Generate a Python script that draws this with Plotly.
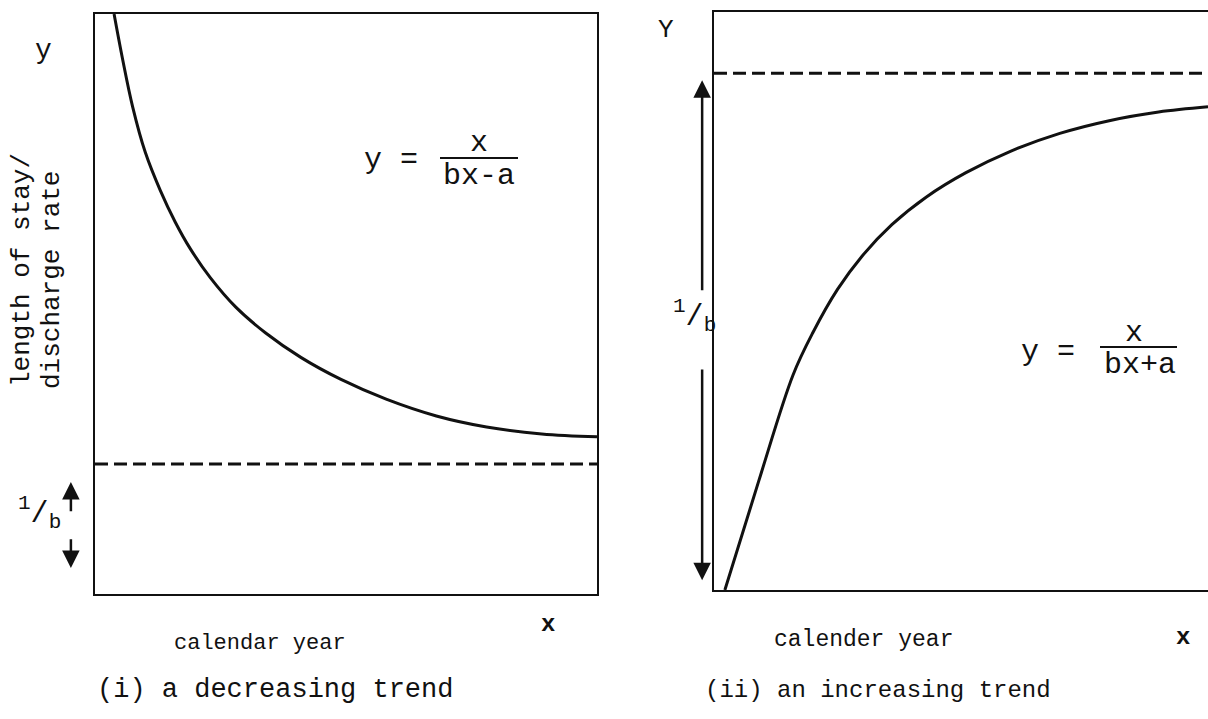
import plotly.graph_objects as go

W, H = 1208, 719
FONT = "Liberation Mono, Courier New, monospace"
INK = "#111111"

# ---- data -------------------------------------------------------------
# Panel (i): decreasing trend, y = x/(bx-a), levelling off above 1/b
dec_x = [0.38, 0.55, 0.75, 1.0, 1.3, 1.6, 1.9, 2.3, 2.8, 3.4, 4.1, 4.9, 5.8, 6.8, 7.8, 8.9, 10.0]
dec_y = [10.0, 9.22, 8.40, 7.62, 6.96, 6.41, 5.95, 5.45, 4.95, 4.50, 4.08, 3.70, 3.36, 3.07, 2.88, 2.76, 2.71]
dec_limit = 2.24          # 1/b

# Panel (ii): increasing trend, y = x/(bx+a), rising towards 1/b
inc_x = [0.22, 0.9, 1.6, 2.0, 2.5, 3.0, 3.6, 4.3, 5.1, 6.0, 7.0, 8.0, 9.0, 10.0]
inc_y = [0.0, 1.87, 3.72, 4.45, 5.2, 5.78, 6.32, 6.80, 7.22, 7.59, 7.90, 8.12, 8.27, 8.36]
inc_limit = 8.94          # 1/b

x_span = [0, 10]
y_span = [0, 10]

# arrows marking the 1/b distance: (x, tail y, tip y) in axis units
dec_arrows = [(-0.48, 1.40, 1.93), (-0.48, 0.97, 0.45)]
inc_arrows = [(-0.24, 5.16, 8.82), (-0.24, 3.84, 0.17)]

# plot areas in pixels: left, right, bottom, top
PANEL_I = (95, 597, 594, 14)
PANEL_II = (714, 1208, 590, 12)


def px(x):
    return x / W


def py(y):
    return 1 - y / H


def to_pixels(panel, xv, yv):
    x0, x1, y0, y1 = panel
    return (x0 + (xv - x_span[0]) / (x_span[1] - x_span[0]) * (x1 - x0),
            y0 + (yv - y_span[0]) / (y_span[1] - y_span[0]) * (y1 - y0))


fig = go.Figure()

# curves
fig.add_trace(go.Scatter(x=dec_x, y=dec_y, mode="lines", line=dict(color=INK, width=3, shape="spline"),
                         xaxis="x", yaxis="y", hoverinfo="skip"))
fig.add_trace(go.Scatter(x=inc_x, y=inc_y, mode="lines", line=dict(color=INK, width=3, shape="spline"),
                         xaxis="x2", yaxis="y2", hoverinfo="skip"))

# asymptotes at 1/b
fig.add_trace(go.Scatter(x=x_span, y=[dec_limit, dec_limit], mode="lines",
                         line=dict(color=INK, width=3, dash="13px,6px"),
                         xaxis="x", yaxis="y", hoverinfo="skip"))
fig.add_trace(go.Scatter(x=x_span, y=[inc_limit, inc_limit], mode="lines",
                         line=dict(color=INK, width=3, dash="13px,6px"),
                         xaxis="x2", yaxis="y2", hoverinfo="skip"))

axis_common = dict(showgrid=False, zeroline=False, showticklabels=False, ticks="",
                   showline=True, linecolor=INK, linewidth=2, fixedrange=True)

fig.update_layout(
    width=W, height=H,
    margin=dict(l=0, r=0, t=0, b=0),
    paper_bgcolor="white", plot_bgcolor="white",
    showlegend=False,
    xaxis=dict(domain=[px(PANEL_I[0]), px(PANEL_I[1])], range=x_span, mirror=True, anchor="y", **axis_common),
    yaxis=dict(domain=[py(PANEL_I[2]), py(PANEL_I[3])], range=y_span, mirror=True, anchor="x", **axis_common),
    xaxis2=dict(domain=[px(PANEL_II[0]), 1.0], range=x_span, mirror=True, anchor="y2", **axis_common),
    yaxis2=dict(domain=[py(PANEL_II[2]), py(PANEL_II[3])], range=y_span, mirror=False, anchor="x2",
                **axis_common),
)

ann = []


def text(x, y, s, size, **kw):
    ann.append(dict(x=px(x), y=py(y), xref="paper", yref="paper", text=s, showarrow=False,
                    font=dict(family=FONT, size=size, color=INK),
                    xanchor=kw.pop("xanchor", "center"), yanchor=kw.pop("yanchor", "middle"), **kw))


def arrow(panel, xv, tail, tip):
    tx, ty = to_pixels(panel, xv, tip)
    sx, sy = to_pixels(panel, xv, tail)
    ann.append(dict(x=px(tx), y=py(ty), xref="paper", yref="paper", ax=sx - tx, ay=sy - ty,
                    text="", showarrow=True, arrowhead=2, arrowsize=1.4, arrowwidth=2.5,
                    arrowcolor=INK, standoff=0, startstandoff=0))


for xv, tail, tip in dec_arrows:
    arrow(PANEL_I, xv, tail, tip)
for xv, tail, tip in inc_arrows:
    arrow(PANEL_II, xv, tail, tip)

ONE_OVER_B = "<sup>1</sup>/<sub>b</sub>"

# panel (i) texts
text(43, 50, "y", 28)
ann.append(dict(x=px(22), y=py(270), xref="paper", yref="paper", showarrow=False,
                text="length of stay/", textangle=-90,
                font=dict(family=FONT, size=26, color=INK), xanchor="center", yanchor="middle"))
ann.append(dict(x=px(52), y=py(280), xref="paper", yref="paper", showarrow=False,
                text="discharge rate", textangle=-90,
                font=dict(family=FONT, size=26, color=INK), xanchor="center", yanchor="middle"))
text(39, 513, ONE_OVER_B, 30)
text(391, 160, "y =", 30)
text(479, 143, "x", 30)
text(479, 176, "bx-a", 30)
text(260, 643, "calendar year", 22)
text(548, 624, "<b>x</b>", 24)
text(275, 690, "(i) a decreasing trend", 27)

# panel (ii) texts
text(666, 30, "Y", 26)
text(694, 316, ONE_OVER_B, 30)
text(1048, 352, "y =", 30)
text(1134, 333, "x", 30)
text(1140, 365, "bx+a", 30)
text(863, 640, "calender year", 23)
text(1183, 637, "<b>x</b>", 24)
text(878, 690, "(ii) an increasing trend", 24)

fig.update_layout(annotations=ann)

# fraction bars
fig.add_shape(type="line", xref="paper", yref="paper", x0=px(440), x1=px(518), y0=py(158), y1=py(158),
              line=dict(color=INK, width=2))
fig.add_shape(type="line", xref="paper", yref="paper", x0=px(1100), x1=px(1177), y0=py(347), y1=py(347),
              line=dict(color=INK, width=2))

fig.write_html("out.html")
